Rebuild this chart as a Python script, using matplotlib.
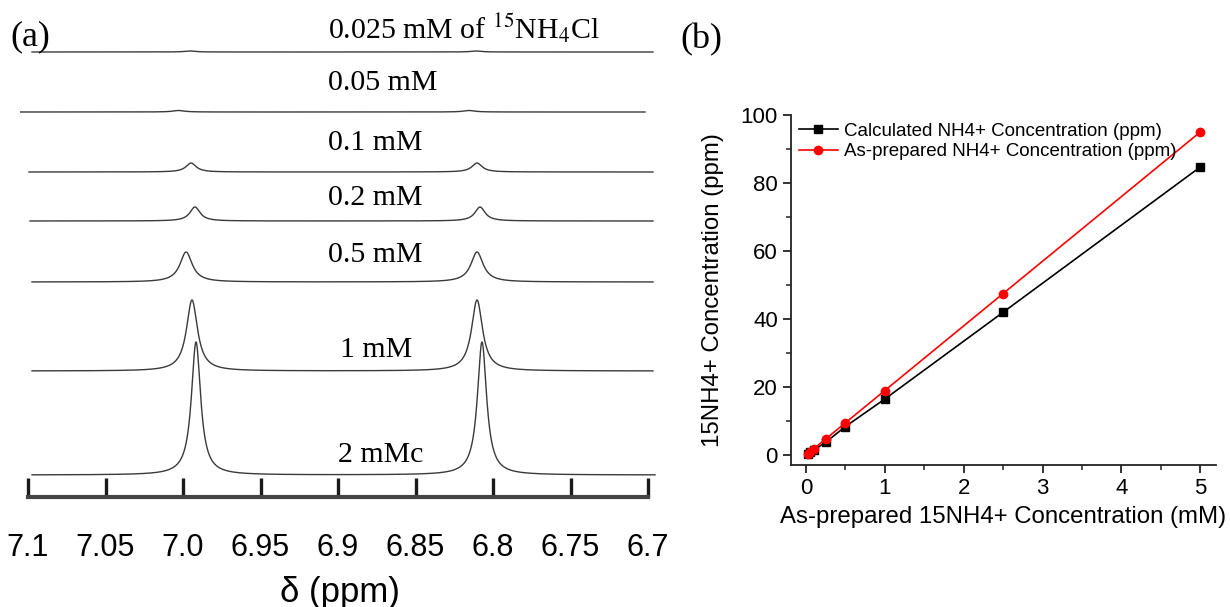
import numpy as np
import matplotlib
matplotlib.use("Agg")
import matplotlib.pyplot as plt
from matplotlib.ticker import MultipleLocator, FixedLocator, FixedFormatter

plt.rcParams['mathtext.fontset'] = 'stix'

# ---- panel (a): 1H NMR doublet of 15NH4+ at several concentrations ----
spec_labels = ['0.025 mM of $^{15}$NH$_4$Cl', '0.05 mM', '0.1 mM', '0.2 mM',
               '0.5 mM', '1 mM', '2 mMc']
# ppm range covered by each trace
spec_start = [7.0974, 7.1052, 7.0994, 7.0987, 7.0974, 7.0974, 7.0974]
spec_end = [6.6968, 6.7019, 6.6968, 6.6968, 6.6968, 6.6968, 6.6955]
# doublet positions (ppm), peak heights (display units) and half widths (ppm)
peak_left = [6.9955, 7.0030, 6.9948, 6.9923, 6.9980, 6.9942, 6.9916]
peak_right = [6.8110, 6.8155, 6.8103, 6.8084, 6.8103, 6.8103, 6.8071]
peak_height = [1.0, 1.5, 9.0, 14.0, 30.0, 71.0, 133.0]
peak_hwhm = [0.0040, 0.0045, 0.0040, 0.0040, 0.0048, 0.0043, 0.0036]

ppm_ticks = [7.1, 7.05, 7.0, 6.95, 6.9, 6.85, 6.8, 6.75, 6.7]
ppm_ticklabels = ['7.1', '7.05', '7.0', '6.95', '6.9', '6.85', '6.8', '6.75', '6.7']

# ---- panel (b): calibration ----
conc_mM = [0.025, 0.05, 0.1, 0.25, 0.5, 1.0, 2.5, 5.0]
calc_ppm = [0.4, 0.8, 1.5, 3.8, 8.4, 16.5, 42.0, 84.7]
prep_ppm = [0.475, 0.95, 1.9, 4.75, 9.5, 19.0, 47.5, 95.0]


def lorentz_doublet(x, c1, c2, h, w):
    return h / (1 + ((x - c1) / w) ** 2) + h / (1 + ((x - c2) / w) ** 2)


fig = plt.figure(figsize=(12.3, 6.07), dpi=100)

# ---------------- panel (a) ----------------
axa = fig.add_axes([20 / 1230, 1 - 497 / 607, 640 / 1230, 497 / 607])
offsets = [445, 385, 325, 276, 215, 126, 22]
label_y = [469, 414, 354, 299, 242, 147, 42]
label_x = [6.9065, 6.9065, 6.9065, 6.9065, 6.9065, 6.8987, 6.9000]

for i in range(len(spec_labels)):
    x = np.linspace(spec_start[i], spec_end[i], 2000)
    y = offsets[i] + lorentz_doublet(x, peak_left[i], peak_right[i],
                                     peak_height[i], peak_hwhm[i])
    axa.plot(x, y, color='#3a3a3a', lw=1.0)
    axa.text(label_x[i], label_y[i], spec_labels[i], ha='left', va='center',
             fontsize=21.5, family='Liberation Serif')

axa.set_xlim(7.1 + 8 / 1550, 6.7 - 12 / 1550)
axa.set_ylim(0, 497)
for s in ['left', 'right', 'top']:
    axa.spines[s].set_visible(False)
axa.spines['bottom'].set_bounds(6.7, 7.1)
axa.spines['bottom'].set_linewidth(3)
axa.spines['bottom'].set_color('#444444')
axa.set_yticks([])
axa.xaxis.set_major_locator(FixedLocator(ppm_ticks))
axa.xaxis.set_major_formatter(FixedFormatter(ppm_ticklabels))
axa.tick_params(axis='x', direction='in', length=14, width=2.4, color='#1a1a1a',
                pad=26, labelsize=22)
for lab in axa.get_xticklabels():
    lab.set_family('Liberation Sans')
axa.set_xlabel('δ (ppm)', fontsize=25, family='Liberation Sans', labelpad=9)
axa.patch.set_visible(False)

fig.text(10 / 1230, 1 - 37 / 607, '(a)', fontsize=26, family='Liberation Serif',
         ha='left', va='center')
fig.text(680 / 1230, 1 - 40 / 607, '(b)', fontsize=26, family='Liberation Serif',
         ha='left', va='center')

# ---------------- panel (b) ----------------
axb = fig.add_axes([791 / 1230, 1 - 465 / 607, 425 / 1230, 350 / 607])
axb.plot(conc_mM, calc_ppm, '-s', color='black', lw=1.2, ms=5.5,
         label='Calculated NH4+ Concentration (ppm)')
axb.plot(conc_mM, prep_ppm, '-o', color='#ff0000', lw=1.2, ms=6,
         label='As-prepared NH4+ Concentration (ppm)')
axb.set_xlim(-0.19, 5.2)
axb.set_ylim(-2.9, 100)
axb.xaxis.set_major_locator(MultipleLocator(1))
axb.xaxis.set_minor_locator(MultipleLocator(0.5))
axb.yaxis.set_major_locator(MultipleLocator(20))
axb.yaxis.set_minor_locator(MultipleLocator(10))
for s in ['right', 'top']:
    axb.spines[s].set_visible(False)
for s in ['left', 'bottom']:
    axb.spines[s].set_linewidth(1.3)
    axb.spines[s].set_color('#222222')
axb.tick_params(which='major', direction='out', length=6, width=1.3,
                labelsize=16, color='#222222')
axb.tick_params(which='minor', direction='out', length=3.5, width=1.1,
                color='#222222')
for lab in axb.get_xticklabels() + axb.get_yticklabels():
    lab.set_family('Liberation Sans')
axb.set_xlabel('As-prepared 15NH4+ Concentration (mM)', fontsize=17.3,
               family='Liberation Sans', labelpad=5)
axb.set_ylabel('15NH4+ Concentration (ppm)', fontsize=17.3,
               family='Liberation Sans', labelpad=12)
leg = axb.legend(loc='upper left', frameon=False,
                 prop={'family': 'Liberation Sans', 'size': 13.5},
                 handlelength=2.1, handletextpad=0.35, borderaxespad=0.0,
                 labelspacing=0.2)

fig.savefig('out.png', dpi=100)
